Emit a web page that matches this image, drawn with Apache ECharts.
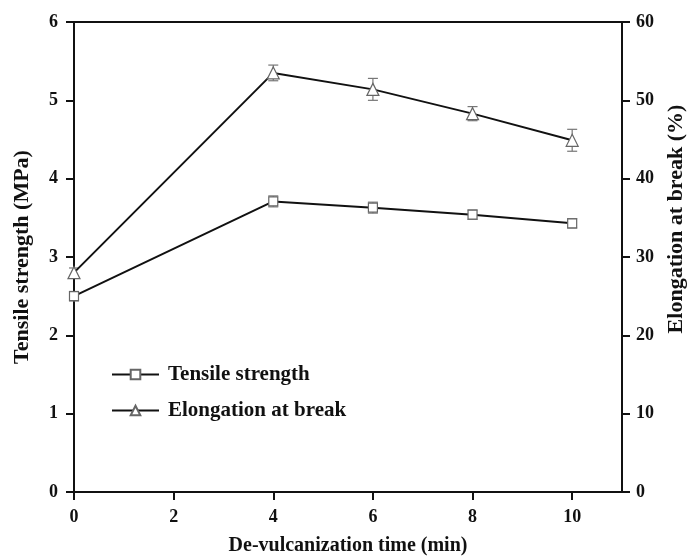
<!DOCTYPE html>
<html>
<head>
<meta charset="utf-8">
<script src="https://cdn.jsdelivr.net/npm/echarts@6/dist/echarts.min.js"></script>
<style>
html,body{margin:0;padding:0;background:#fff;}
#chart{width:692px;height:556px;}
</style>
</head>
<body>
<div id="chart"></div>
<script>
var times = [0, 4, 6, 8, 10];
var tensile = [2.50, 3.71, 3.63, 3.54, 3.43];
var tensileErr = [0.06, 0.07, 0.07, 0.06, 0.06];
var elongation = [28.0, 53.5, 51.4, 48.3, 44.9];
var elongErr = [0.6, 1.0, 1.4, 0.9, 1.4];
var xTicks = [0, 2, 4, 6, 8, 10];

var FONT = '"Liberation Serif", "DejaVu Serif", serif';

function pairs(xs, ys) { return xs.map(function (x, i) { return [x, ys[i]]; }); }
function errData(xs, ys, es) { return xs.map(function (x, i) { return [x, ys[i] - es[i], ys[i] + es[i]]; }); }

function errRender(params, api) {
  var x = api.value(0), lo = api.value(1), hi = api.value(2);
  var pLo = api.coord([x, lo]);
  var pHi = api.coord([x, hi]);
  var w = 5;
  var st = { stroke: '#777', lineWidth: 1.2 };
  return {
    type: 'group',
    children: [
      { type: 'line', shape: { x1: pLo[0], y1: pLo[1], x2: pHi[0], y2: pHi[1] }, style: st },
      { type: 'line', shape: { x1: pLo[0] - w, y1: pLo[1], x2: pLo[0] + w, y2: pLo[1] }, style: st },
      { type: 'line', shape: { x1: pHi[0] - w, y1: pHi[1], x2: pHi[0] + w, y2: pHi[1] }, style: st }
    ]
  };
}

var labelStyle = { color: '#111', fontFamily: FONT, fontWeight: 'bold', fontSize: 18 };
var hNameStyle = { color: '#111', fontFamily: FONT, fontWeight: 'bold', fontSize: 20 };
var vNameStyle = { color: '#111', fontFamily: FONT, fontWeight: 'bold', fontSize: 22 };
var rNameStyle = Object.assign({}, vNameStyle, { padding: [0, 0, 0, 76] });
var lineStyle = { color: '#111', width: 2 };

var chart = echarts.init(document.getElementById('chart'), null, { renderer: 'canvas' });
chart.setOption({
  animation: false,
  backgroundColor: '#fff',
  grid: { left: 74, right: 70, top: 22, bottom: 64, containLabel: false, outerBoundsMode: 'none' },
  legend: {
    orient: 'vertical',
    left: 106,
    top: 359,
    itemWidth: 47,
    itemHeight: 12,
    itemGap: 15,
    textStyle: { color: '#111', fontFamily: FONT, fontWeight: 'bold', fontSize: 21, padding: [0, 0, 0, 4] },
    data: ['Tensile strength', 'Elongation at break']
  },
  xAxis: [{
    type: 'value',
    min: 0, max: 11, interval: 2,
    name: 'De-vulcanization time (min)',
    nameLocation: 'middle',
    nameGap: 44,
    nameTextStyle: hNameStyle,
    axisLine: { show: true, lineStyle: lineStyle },
    axisTick: { show: true, inside: false, length: 8, lineStyle: lineStyle, customValues: xTicks },
    axisLabel: Object.assign({ margin: 16, customValues: xTicks }, labelStyle),
    splitLine: { show: false }
  }, {
    type: 'value',
    position: 'top',
    min: 0, max: 11,
    axisLine: { show: true, onZero: false, lineStyle: lineStyle },
    axisTick: { show: false },
    axisLabel: { show: false },
    splitLine: { show: false }
  }],
  yAxis: [{
    type: 'value',
    min: 0, max: 6, interval: 1,
    name: 'Tensile strength (MPa)',
    nameLocation: 'middle',
    nameGap: 41,
    nameTextStyle: vNameStyle,
    axisLine: { show: true, onZero: false, lineStyle: lineStyle },
    axisTick: { show: true, length: 8, lineStyle: lineStyle },
    axisLabel: Object.assign({ margin: 16 }, labelStyle),
    splitLine: { show: false }
  }, {
    type: 'value',
    position: 'right',
    min: 0, max: 60, interval: 10,
    name: 'Elongation at break (%)',
    nameLocation: 'middle',
    nameGap: 37,
    nameRotate: 90,
    nameTextStyle: rNameStyle,
    axisLine: { show: true, onZero: false, lineStyle: lineStyle },
    axisTick: { show: true, length: 8, lineStyle: lineStyle },
    axisLabel: Object.assign({ margin: 14 }, labelStyle),
    splitLine: { show: false }
  }],
  series: [{
    name: 'Tensile strength',
    type: 'line',
    xAxisIndex: 0, yAxisIndex: 0,
    data: pairs(times, tensile),
    symbol: 'rect',
    symbolSize: 9,
    lineStyle: { color: '#111', width: 2 },
    itemStyle: { color: '#fff', borderColor: '#666', borderWidth: 1.2 },
    z: 3
  }, {
    name: 'Elongation at break',
    type: 'line',
    xAxisIndex: 0, yAxisIndex: 1,
    data: pairs(times, elongation),
    symbol: 'triangle',
    symbolSize: 12,
    lineStyle: { color: '#111', width: 2 },
    itemStyle: { color: '#fff', borderColor: '#666', borderWidth: 1.2 },
    z: 3
  }, {
    type: 'custom',
    xAxisIndex: 0, yAxisIndex: 0,
    data: errData(times, tensile, tensileErr),
    renderItem: errRender,
    z: 2
  }, {
    type: 'custom',
    xAxisIndex: 0, yAxisIndex: 1,
    data: errData(times, elongation, elongErr),
    renderItem: errRender,
    z: 2
  }]
});
</script>
</body>
</html>
